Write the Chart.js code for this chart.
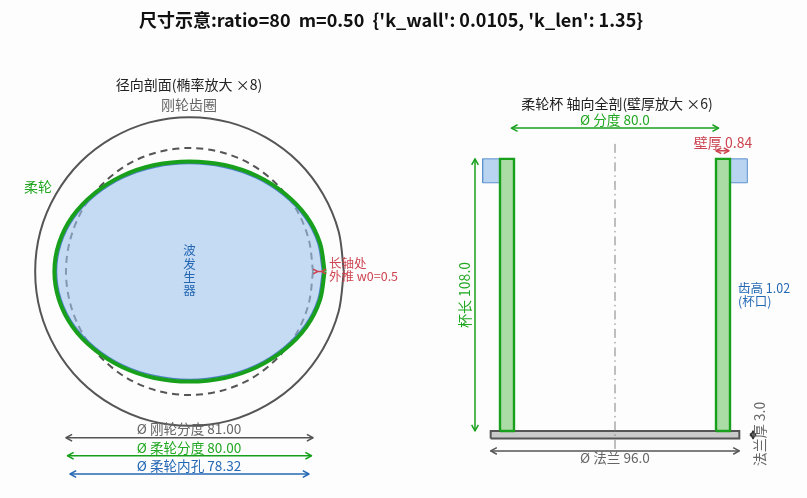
<!DOCTYPE html>
<html>
<head>
<meta charset="utf-8">
<script src="https://cdn.jsdelivr.net/npm/chart.js@4"></script>
<style>
  html, body { margin: 0; background: #fdfdfd; }
  canvas { display: block; }
</style>
</head>
<body>
<canvas id="sketch" width="807" height="498"></canvas>
<script>
// radial section, quarter outlines in mm (0 to 90 degrees, mirrored below)
const ringX = [50.6, 48.9, 43.8, 35.8, 25.3, 13.1, 0];
const ringY = [0, 13.1, 25.3, 35.8, 43.8, 48.9, 50.6];
const rigidX = [40.5, 39.1, 35.1, 28.6, 20.25, 10.5, 0];
const rigidY = [0, 10.5, 20.25, 28.6, 35.1, 39.1, 40.5];
const flexX = [44.3, 42.8, 38.4, 31.3, 22.15, 11.5, 0];
const flexY = [0, 9.3, 18.05, 25.5, 31.3, 34.9, 36.1];
const waveX = [43.6, 42.1, 37.8, 30.8, 21.8, 11.3, 0];
const waveY = [0, 9.2, 17.7, 25.0, 30.7, 34.2, 35.4];

// diameters and dimension lines of the radial section
const rigidPitch = 81.0;
const flexPitch = 80.0;
const flexBore = 78.32;
const diaLevels = [-54.5, -60.4, -66.4];
const pushSpan = [42.0, 43.3];
const pushLevel = 0;

// axial section in mm
const wallInner = 39.0;
const wallOuter = 44.4;
const toothOuter = 51.1;
const cupLength = 108.0;
const toothStart = 98.5;
const flangeDia = 96.0;
const flangeThick = 3.0;
const centerSpan = [-7.1, 114.3];
const pitchLevel = 120.2;
const flangeLevel = -7.9;
const lengthAt = -54.05;
const wallDimLevel = 111.2;
const wallDim = [39.0, 44.0];
const flangeDimAt = 53.3;

const titleText = "尺寸示意:ratio=80  m=0.50  {'k_wall': 0.0105, 'k_len': 1.35}";

const GRAY = "#555555";
const GREEN = "#18a01c";
const BLUE = "#2468b4";
const RED = "#cc4450";

function loop(xs, ys) {
  const pts = [];
  const last = xs.length - 1;
  for (let i = 0; i <= last; i++) pts.push({ x: xs[i], y: ys[i] });
  for (let i = last - 1; i >= 0; i--) pts.push({ x: -xs[i], y: ys[i] });
  for (let i = 1; i <= last; i++) pts.push({ x: -xs[i], y: -ys[i] });
  for (let i = last - 1; i >= 0; i--) pts.push({ x: xs[i], y: -ys[i] });
  return pts;
}

function box(x1, x2, y1, y2) {
  return [
    { x: x1, y: y1 }, { x: x2, y: y1 }, { x: x2, y: y2 }, { x: x1, y: y2 }, { x: x1, y: y1 },
  ];
}

function hLine(x1, x2, y) {
  return [{ x: x1, y }, { x: x2, y }];
}

function vLine(x, y1, y2) {
  return [{ x, y: y1 }, { x, y: y2 }];
}

const left = { xAxisID: "xL", yAxisID: "yL", tension: 0.33 };
const right = { xAxisID: "xR", yAxisID: "yR" };

// first dataset ends up on top
const datasets = [
  // radial section
  { ...left, data: hLine(pushSpan[0], pushSpan[1], pushLevel), borderColor: RED, borderWidth: 1.5, arrow: "in", head: 5 },
  { ...left, data: loop(flexX, flexY), borderColor: GREEN, borderWidth: 4 },
  { ...left, data: loop(waveX, waveY), borderColor: "#4a80c0", borderWidth: 1.5, fill: "shape", backgroundColor: "rgba(160,195,237,0.6)" },
  { ...left, data: loop(rigidX, rigidY), borderColor: GRAY, borderWidth: 2, borderDash: [7, 5] },
  { ...left, data: loop(ringX, ringY), borderColor: GRAY, borderWidth: 2 },
  { ...left, data: hLine(-rigidPitch / 2, rigidPitch / 2, diaLevels[0]), borderColor: GRAY, borderWidth: 1.5, arrow: "out" },
  { ...left, data: hLine(-flexPitch / 2, flexPitch / 2, diaLevels[1]), borderColor: GREEN, borderWidth: 1.5, arrow: "out" },
  { ...left, data: hLine(-flexBore / 2, flexBore / 2, diaLevels[2]), borderColor: BLUE, borderWidth: 1.5, arrow: "out" },
  // axial section
  { ...right, data: hLine(wallDim[0], wallDim[1], wallDimLevel), borderColor: RED, borderWidth: 1.5, arrow: "out", head: 6 },
  { ...right, data: box(-wallOuter, -wallInner, 0, cupLength), borderColor: GREEN, borderWidth: 2.4, fill: "shape", backgroundColor: "#acdca6" },
  { ...right, data: box(wallInner, wallOuter, 0, cupLength), borderColor: GREEN, borderWidth: 2.4, fill: "shape", backgroundColor: "#acdca6" },
  { ...right, data: box(-toothOuter, -wallOuter, toothStart, cupLength), borderColor: "#5f93d0", borderWidth: 1, fill: "shape", backgroundColor: "#b8d4f0" },
  { ...right, data: box(wallOuter, toothOuter, toothStart, cupLength), borderColor: "#5f93d0", borderWidth: 1, fill: "shape", backgroundColor: "#b8d4f0" },
  { ...right, data: vLine(0, centerSpan[0], centerSpan[1]), borderColor: "#808080", borderWidth: 1, borderDash: [9, 4, 1.5, 4] },
  { ...right, data: box(-flangeDia / 2, flangeDia / 2, -flangeThick, 0), borderColor: GRAY, borderWidth: 2, fill: "shape", backgroundColor: "#cacaca" },
  { ...right, data: hLine(-40, 40, pitchLevel), borderColor: GREEN, borderWidth: 1.5, arrow: "out" },
  { ...right, data: hLine(-flangeDia / 2, flangeDia / 2, flangeLevel), borderColor: GRAY, borderWidth: 1.5, arrow: "out" },
  { ...right, data: vLine(lengthAt, 0, cupLength), borderColor: GREEN, borderWidth: 1.5, arrow: "out" },
  { ...right, data: vLine(flangeDimAt, -flangeThick, 0), borderColor: "#333333", borderWidth: 1.5, arrow: "out", head: 6 },
];

// text, placed on the page
const notes = [
  { text: titleText, x: 391, y: 20, size: 18, color: "#111111", bold: true },
  { text: "径向剖面(椭率放大 ×8)", x: 189, y: 85, color: "#222222" },
  { text: "刚轮齿圈", x: 189, y: 105, color: "#666666" },
  { text: "柔轮", x: 38, y: 187, color: "#22a722" },
  { text: "波", x: 189.5, y: 250, color: BLUE, size: 12.5 },
  { text: "发", x: 189.5, y: 264, color: BLUE, size: 12.5 },
  { text: "生", x: 189.5, y: 277, color: BLUE, size: 12.5 },
  { text: "器", x: 189.5, y: 290, color: BLUE, size: 12.5 },
  { text: "长轴处", x: 329, y: 263.5, color: RED, size: 12.5, align: "left" },
  { text: "外推 w0=0.5", x: 329, y: 276.5, color: RED, size: 12.5, align: "left" },
  { text: "Ø 刚轮分度 81.00", x: 189, y: 429, color: "#666666", size: 13.6 },
  { text: "Ø 柔轮分度 80.00", x: 189, y: 448, color: "#22a722", size: 13.6 },
  { text: "Ø 柔轮内孔 78.32", x: 189, y: 466, color: BLUE, size: 13.6 },
  { text: "柔轮杯 轴向全剖(壁厚放大 ×6)", x: 617, y: 104, color: "#222222" },
  { text: "Ø 分度 80.0", x: 615, y: 120, color: "#22a722", size: 13.6 },
  { text: "壁厚 0.84", x: 723, y: 142.5, color: RED },
  { text: "杯长 108.0", x: 465, y: 295, color: "#22a722", size: 14, rotate: true },
  { text: "齿高 1.02", x: 738, y: 288, color: BLUE, size: 12.5, align: "left" },
  { text: "(杯口)", x: 738, y: 301, color: BLUE, size: 12.5, align: "left" },
  { text: "Ø 法兰 96.0", x: 615, y: 458, color: "#666666", size: 13.6 },
  { text: "法兰厚 3.0", x: 760, y: 434, color: "#666666", rotate: true },
];

const arrowHeads = {
  id: "arrowHeads",
  afterDatasetsDraw(chart) {
    const ctx = chart.ctx;
    chart.data.datasets.forEach((ds, i) => {
      if (!ds.arrow) return;
      const [a, b] = chart.getDatasetMeta(i).data;
      const size = ds.head || 7;
      const angle = Math.atan2(b.y - a.y, b.x - a.x);
      // "out" points away from the shaft, "in" points back along it
      const ends = ds.arrow === "out"
        ? [[a, angle + Math.PI], [b, angle]]
        : [[a, angle], [b, angle + Math.PI]];
      ctx.save();
      ctx.strokeStyle = ds.borderColor;
      ctx.lineWidth = ds.borderWidth;
      ctx.lineJoin = "round";
      ends.forEach(([p, dir]) => {
        ctx.beginPath();
        ctx.moveTo(p.x - size * Math.cos(dir - 0.5), p.y - size * Math.sin(dir - 0.5));
        ctx.lineTo(p.x, p.y);
        ctx.lineTo(p.x - size * Math.cos(dir + 0.5), p.y - size * Math.sin(dir + 0.5));
        ctx.stroke();
      });
      ctx.restore();
    });
  },
};

const textNotes = {
  id: "textNotes",
  afterDraw(chart) {
    const ctx = chart.ctx;
    notes.forEach((n) => {
      ctx.save();
      ctx.translate(n.x, n.y);
      if (n.rotate) ctx.rotate(-Math.PI / 2);
      ctx.font = `${n.bold ? "bold " : ""}${n.size || 14}px "Noto Sans CJK SC"`;
      ctx.textAlign = n.align || "center";
      ctx.textBaseline = "middle";
      ctx.fillStyle = n.color;
      ctx.fillText(n.text, 0, 0);
      ctx.restore();
    });
  },
};

new Chart(document.getElementById("sketch"), {
  type: "scatter",
  data: { datasets },
  plugins: [arrowHeads, textNotes],
  options: {
    responsive: false,
    animation: false,
    events: [],
    showLine: true,
    elements: { point: { radius: 0 } },
    plugins: { legend: { display: false }, tooltip: { enabled: false } },
    scales: {
      xL: { type: "linear", display: false, min: -62.13, max: 202.46 },
      yL: { type: "linear", display: false, min: -74.26, max: 89.02 },
      xR: { type: "linear", display: false, min: -237.45, max: 74.13 },
      yR: { type: "linear", display: false, min: -26.59, max: 171.03 },
    },
  },
});
</script>
</body>
</html>
